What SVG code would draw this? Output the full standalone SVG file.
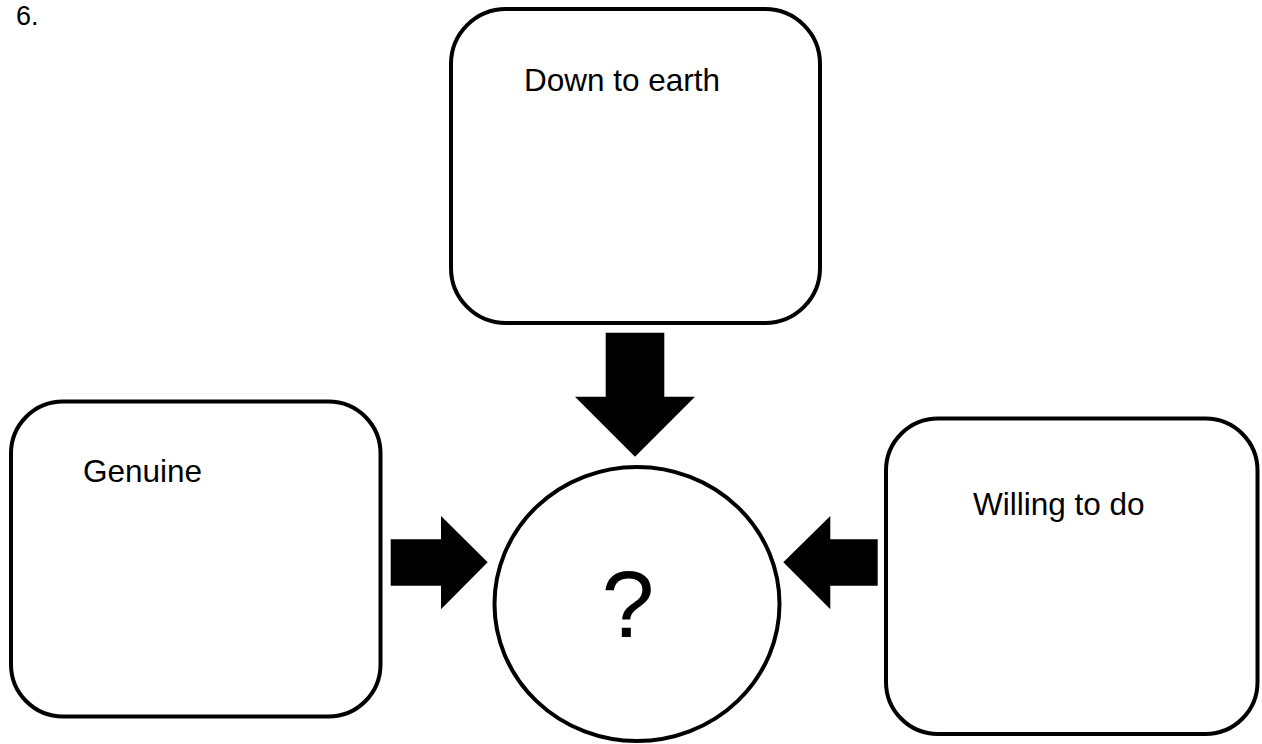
<svg xmlns="http://www.w3.org/2000/svg" width="1262" height="744" viewBox="0 0 1262 744">
<style>
.box{fill:#fff;stroke:#000;stroke-width:4}
.lbl{font-family:"Liberation Sans",Arial,sans-serif;font-size:31.5px;fill:#000}
.arr{fill:#000}
</style>
<rect width="1262" height="744" fill="#fff"/>
<text class="lbl" x="16" y="25" style="font-size:27px">6.</text>
<g id="node-top">
<rect class="box" x="451" y="9" width="369" height="314" rx="55" ry="55"/>
<text class="lbl" x="524" y="91">Down to earth</text>
</g>
<g id="node-left">
<rect class="box" x="11" y="401.5" width="369.5" height="315" rx="52" ry="52"/>
<text class="lbl" x="83" y="482">Genuine</text>
</g>
<g id="node-right">
<rect class="box" x="886" y="418.5" width="371.5" height="315.5" rx="52" ry="52"/>
<text class="lbl" x="973" y="515">Willing to do</text>
</g>
<g id="node-center">
<ellipse class="box" cx="637" cy="604" rx="142.5" ry="137"/>
<text x="628" y="637" text-anchor="middle" style="font-family:'Liberation Sans',Arial,sans-serif;font-size:95px;fill:#000">?</text>
</g>
<g id="connectors">
<polygon class="arr" points="605.7,332.7 664.3,332.7 664.3,396.7 695,396.7 635,456.7 575,396.7 605.7,396.7"/>
<polygon class="arr" points="390.7,539.3 441,539.3 441,516 487.7,562.3 441,609.3 441,585.7 390.7,585.7"/>
<polygon class="arr" points="877.7,539.3 830.3,539.3 830.3,516 783.3,562.3 830.3,609.3 830.3,585.7 877.7,585.7"/>
</g>
</svg>
